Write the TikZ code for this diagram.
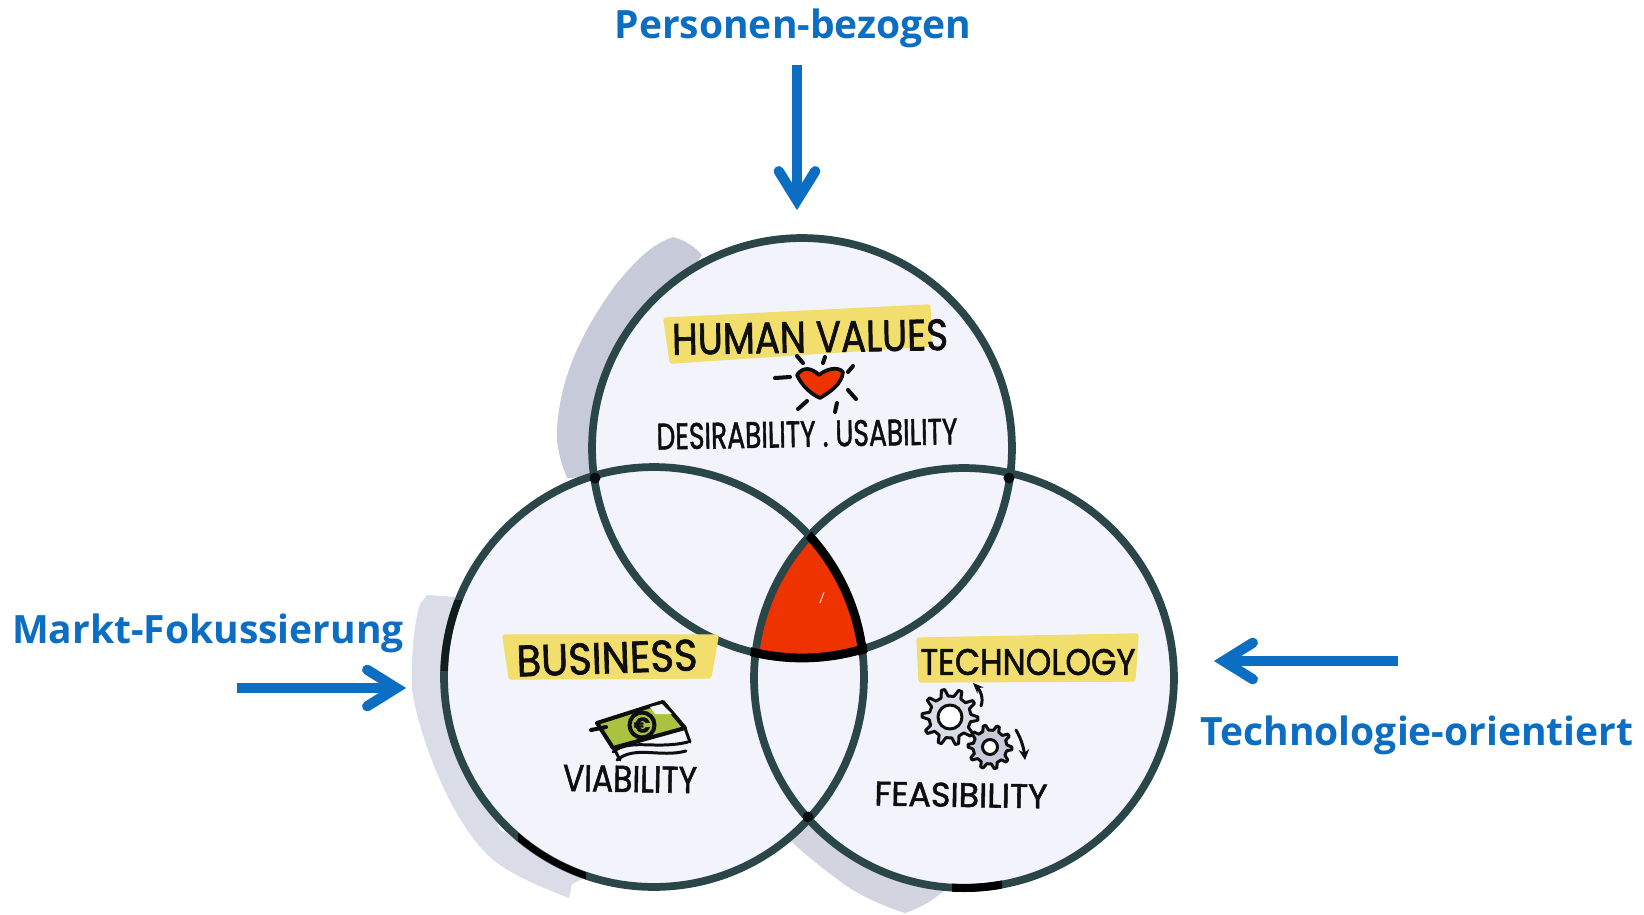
\documentclass[tikz,border=0pt]{standalone}
\usepackage{fontspec}
\usepackage{graphicx}
\usetikzlibrary{arrows.meta,calc}
\setmainfont{Open Sans}
\newfontfamily\handfont[FakeBold=1.6]{Poppins}
\definecolor{blueA}{HTML}{0B6EC3}
\definecolor{ringC}{HTML}{2A4649}
\definecolor{discC}{HTML}{F2F3FB}
\definecolor{shadeA}{HTML}{C6CAD9}
\definecolor{shadeB}{HTML}{DADCE7}
\definecolor{shadeC}{HTML}{D2D4E0}
\definecolor{redC}{HTML}{EE3200}
\definecolor{yelC}{HTML}{F1DE6C}
\definecolor{greenC}{HTML}{A9C23F}
\definecolor{inkC}{HTML}{0E0E0E}
\pgfdeclarearrow{
  name=BlueChev,
  setup code={
    \pgfarrowssettipend{0pt}
    \pgfarrowssetlineend{-10pt}
    \pgfarrowssetvisualbackend{-12pt}
    \pgfarrowssetbackend{-24pt}
    \pgfarrowshullpoint{0pt}{0pt}
    \pgfarrowshullpoint{-24pt}{11pt}
    \pgfarrowshullpoint{-24pt}{-11pt}
  },
  drawing code={
    \pgfsetlinewidth{5.8pt}
    \pgfsetroundcap
    \pgfsetmiterjoin
    \pgfpathmoveto{\pgfpoint{-22.7pt}{10.4pt}}
    \pgfpathlineto{\pgfpoint{-6pt}{0pt}}
    \pgfpathlineto{\pgfpoint{-22.7pt}{-10.4pt}}
    \pgfusepathqstroke
  }
}
\tikzset{
  x=0.02cm,y=-0.02cm,
  bluelabel/.style={text=blueA,font=\fontsize{22.2}{26}\selectfont\bfseries,anchor=base,inner sep=0pt},
  bluearrow/.style={draw=blueA,line width=5.6pt,-{BlueChev}},
  ring/.style={draw=ringC,line width=4.4pt},
  hand/.style={text=inkC,inner sep=0pt,font=\handfont},
  band/.style={fill=yelC,draw=yelC,line width=3pt,line join=round},
  ink/.style={draw=inkC,line width=2.3pt,line cap=round,line join=round},
  inkthin/.style={draw=inkC,line width=1.7pt,line cap=round,line join=round},
}
\newcommand{\gearshape}[5]{% cx cy ro ri fill
  \draw[inkthin,fill=#5] ($(#1,#2)+(0:#3)$)
    \foreach \i in {0,...,9}{
      -- ($(#1,#2)+({\i*36+7}:#3)$) -- ($(#1,#2)+({\i*36+13}:#4)$)
      -- ($(#1,#2)+({\i*36+29}:#4)$) -- ($(#1,#2)+({\i*36+36}:#3)$)
    } -- cycle;
}
\begin{document}
\begin{tikzpicture}
\useasboundingbox (0,0) rectangle (1644,914);
% soft shadows behind the discs
\fill[shadeA] (673,237) .. controls (685,240) and (695,247) .. (702,255) -- (640,340) -- (593,477)
  -- (567,478) .. controls (560,460) and (556,445) .. (557,428)
  .. controls (560,385) and (575,340) .. (617,283) .. controls (635,262) and (650,245) .. (673,237) -- cycle;
\fill[shadeB] (427,595) -- (455,597) -- (445,700) -- (500,830) -- (587,877) -- (572,884) -- (569,898)
  .. controls (535,885) and (500,870) .. (483,850)
  .. controls (450,815) and (420,740) .. (412,690)
  .. controls (411,650) and (415,620) .. (420,604) -- cycle;
\fill[shadeC] (790,840) -- (808,820) -- (825,823) -- (880,860) -- (950,885)
  .. controls (935,900) and (920,908) .. (905,913)
  .. controls (880,905) and (860,895) .. (845,885)
  .. controls (825,870) and (805,855) .. (790,840) -- cycle;
% discs
\fill[discC] (802,448) circle[radius=4.2cm];
\fill[discC] (654,677) circle[radius=4.2cm];
\fill[discC] (964,678) circle[radius=4.2cm];
% red centre
\begin{scope}
  \clip (802,448) circle[radius=4.2cm];
  \clip (654,677) circle[radius=4.2cm];
  \fill[redC] (964,678) circle[radius=4.2cm];
\end{scope}
% rings
\draw[ring] (802,448) circle[radius=4.2cm];
\draw[ring] (654,677) circle[radius=4.2cm];
\draw[ring] (964,678) circle[radius=4.2cm];
% black outline of the red centre
\begin{scope}
  \clip (964,678) circle[radius=4.23cm];
  \clip (802,448) circle[radius=4.3cm];
  \draw[draw=black,line width=5pt] (654,677) circle[radius=4.2cm];
\end{scope}
\begin{scope}
  \clip (964,678) circle[radius=4.3cm];
  \clip (654,677) circle[radius=4.3cm];
  \draw[draw=black,line width=5pt] (802,448) circle[radius=4.2cm];
\end{scope}
% dark ends of the marker strokes
\begin{scope}
  \clip (518,815) rectangle (586,890);
  \draw[draw=black,line width=3.6pt] (654,677) circle[radius=4.2cm];
\end{scope}
\begin{scope}
  \clip (952,870) rectangle (1002,900);
  \draw[draw=black,line width=4.6pt] (964,678) circle[radius=4.2cm];
\end{scope}
\begin{scope}
  \clip (440,600) rectangle (465,670);
  \draw[draw=black!60!ringC,line width=4.2pt] (654,677) circle[radius=4.2cm];
\end{scope}
\fill[black!80!ringC] (595,478) circle[radius=0.11cm] (1009,478) circle[radius=0.11cm] (808,817) circle[radius=0.11cm];
\draw[white!70!redC,line width=0.7pt] (824,592) -- (820,603);
% yellow bands
\fill[band] (666,320) -- (928,307) -- (930,344) -- (672,361) -- cycle;
\fill[band] (505,637) -- (716,637) -- (709,676) -- (511,677) -- cycle;
\fill[band] (919,640) -- (1136,636) -- (1133,679) -- (921,680) -- cycle;
% words
\node[hand,rotate=1] (human) at (810,337) {\resizebox{5.52cm}{0.62cm}{HUMAN VALUES}};
\node[hand,rotate=1] (desir) at (807,434) {\resizebox{6.02cm}{0.52cm}{DESIRABILITY . USABILITY}};
\node[hand,rotate=2] (business) at (607,658) {\resizebox{3.62cm}{0.62cm}{BUSINESS}};
\node[hand,rotate=-1] (viab) at (630,779) {\resizebox{2.68cm}{0.52cm}{VIABILITY}};
\node[hand,rotate=0] (techn) at (1028,662) {\resizebox{4.3cm}{0.52cm}{TECHNOLOGY}};
\node[hand,rotate=-1] (feas) at (961,795) {\resizebox{3.46cm}{0.48cm}{FEASIBILITY}};
% heart
\draw[draw=inkC,line width=2.1pt,fill=redC,line join=round]
  (797,375) .. controls (803,366) and (812,368) .. (819,375)
  .. controls (826,369) and (838,366) .. (843,372)
  .. controls (842,384) and (830,392) .. (820,398)
  .. controls (811,394) and (802,386) .. (797,375) -- cycle;
\draw[ink] (775,378) -- (790,377);
\draw[ink] (797,356) -- (803,363);
\draw[ink] (825,357) -- (823,363);
\draw[ink] (853,366) -- (848,372);
\draw[ink] (848,390) -- (856,399);
\draw[ink] (837,403) -- (835,412);
\draw[ink] (807,401) -- (798,409);
% money
\draw[inkthin] (608,738) .. controls (612,745) and (616,752) .. (620,760);
\draw[inkthin] (613,752) .. controls (630,738) and (655,750) .. (688,742);
\draw[inkthin] (617,760) .. controls (635,745) and (660,758) .. (686,751);
\draw[inkthin] (685,728) -- (690,742);
\draw[ink,fill=greenC] (597,723) -- (663,702) -- (685,728) -- (613,748) -- cycle;
\fill[discC] (650,707) -- (662,704) -- (672,714) -- (655,714) -- cycle;
\draw[ink,fill=greenC] (642,725) circle[radius=0.25cm];
\node[hand,font=\handfont\bfseries\fontsize{12}{12}\selectfont,inner sep=0pt] (euro) at (642,725) {€};
\draw[ink] (591,730) -- (606,727);
% gears
\gearshape{950}{717}{28}{21}{shadeB}
\draw[inkthin,fill=white] (950,717) circle[radius=0.24cm];
\gearshape{990}{747}{22}{17}{shadeA}
\draw[inkthin,fill=white] (990,747) circle[radius=0.15cm];
\draw[inkthin,-{Stealth[length=6pt,width=5pt]}] (981,706) .. controls (984,698) and (980,690) .. (973,683);
\draw[inkthin,-{Stealth[length=6pt,width=6pt]}] (1016,730) .. controls (1022,740) and (1024,750) .. (1025,760);
% blue labels and arrows
\node[bluelabel] (lblTop) at (793,38) {Personen-bezogen};
\node[bluelabel] (lblLeft) at (208,643) {Markt-Fokussierung};
\node[bluelabel] (lblRight) at (1417,745) {Technologie-orientiert};
\coordinate (aTopS) at (797,65);
\coordinate (aTopE) at (797,211);
\coordinate (aLeftS) at (237,688);
\coordinate (aLeftE) at (407,688);
\coordinate (aRightS) at (1398,661);
\coordinate (aRightE) at (1213,661);
\draw[bluearrow] (aTopS) -- (aTopE);
\draw[bluearrow] (aLeftS) -- (aLeftE);
\draw[bluearrow] (aRightS) -- (aRightE);
\end{tikzpicture}
\end{document}
